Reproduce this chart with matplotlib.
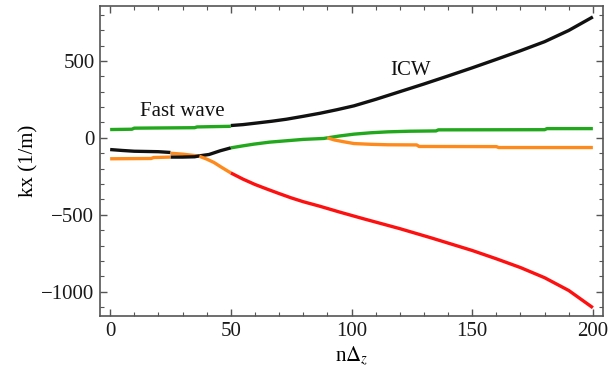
import matplotlib
matplotlib.use("Agg")
import matplotlib.pyplot as plt
from matplotlib.ticker import MultipleLocator

plt.rcParams['font.family'] = ['Liberation Serif', 'DejaVu Serif']
plt.rcParams['mathtext.fontset'] = 'stix'

# Top branch: fast wave (green) then ICW (black)
x_fw = [0, 9, 10, 35, 36, 50]
y_fw = [54, 56, 63, 66, 71, 75]
x_icw = [50, 55, 60, 67, 73, 80, 87, 94, 101, 110, 120, 130, 140, 150, 160, 170, 180, 190, 200]
y_icw = [80, 86, 95, 108, 121, 140, 160, 183, 208, 250, 300, 350, 402, 455, 510, 566, 625, 698, 786]

# Second branch
x_b1 = [0, 5, 10, 20, 25]
y_b1 = [-76, -82, -87, -90, -95]
x_o1 = [25, 30, 35, 38]
y_o1 = [-100, -106, -115, -120]
x_b2 = [25, 30, 35, 37]
y_b2 = [-125, -125, -123, -117]
x_b3 = [37, 41, 45.6, 50]
y_b3 = [-117, -108, -84, -65]
x_g1 = [50, 55, 59.5, 66, 73, 80, 88.5, 90]
y_g1 = [-65, -52, -41, -28, -19, -10, -4, 0]
x_g2 = [90, 95, 101, 108, 115, 124, 135, 136, 180, 181, 200]
y_g2 = [0, 12, 24, 33, 39, 43, 45, 52, 53, 60, 60]

# Lower branch: orange then red
x_o2 = [0, 17, 18, 25]
y_o2 = [-136, -134, -128, -125]
x_o3 = [37, 40, 43, 46, 50]
y_o3 = [-120, -138, -160, -190, -228]
x_red = [50, 55, 60, 65, 70, 75, 80, 87, 95, 105, 120, 133, 150, 160, 170, 180, 190, 200]
y_red = [-228, -268, -303, -333, -362, -390, -415, -445, -482, -526, -590, -650, -732, -786, -843, -909, -992, -1104]

# Split-off branch (orange)
x_o4 = [90, 93, 97, 101, 108, 115, 127, 128, 160, 161, 200]
y_o4 = [0, -14, -26, -37, -42, -45, -46, -56, -57, -63, -63]

GREEN = '#22a81c'
ORANGE = '#ff8a1c'
RED = '#ff1010'
BLACK = '#111111'

fig = plt.figure(figsize=(6.08, 3.74), dpi=100)
ax = fig.add_axes([0.1645, 0.155, 0.8265, 0.829])
lw = 2.4
segs = [(x_fw, y_fw, GREEN), (x_icw, y_icw, BLACK),
        (x_b1, y_b1, BLACK), (x_o1, y_o1, ORANGE), (x_b2, y_b2, BLACK),
        (x_b3, y_b3, BLACK), (x_g1, y_g1, GREEN), (x_g2, y_g2, GREEN),
        (x_o2, y_o2, ORANGE), (x_o3, y_o3, ORANGE), (x_red, y_red, RED),
        (x_o4, y_o4, ORANGE)]
for xs, ys, c in segs:
    ax.plot(xs, ys, color=c, lw=lw, solid_capstyle='butt', solid_joinstyle='round')

ax.set_xlim(-4.2, 204)
ax.set_ylim(-1158, 857)
ax.xaxis.set_major_locator(MultipleLocator(50))
ax.xaxis.set_minor_locator(MultipleLocator(10))
ax.yaxis.set_major_locator(MultipleLocator(500))
ax.yaxis.set_minor_locator(MultipleLocator(100))
ax.tick_params(which='both', direction='in', top=True, right=True,
               colors='#555555', labelcolor='#1a1a1a', labelsize=15, pad=4)
ax.tick_params(which='major', length=5, width=1)
ax.tick_params(which='minor', length=3, width=0.8)
for s in ax.spines.values():
    s.set_color('#555555')
    s.set_linewidth(1.2)
ax.set_yticks([-1000, -500, 0, 500])
ax.set_yticklabels(['\u22121000', '\u2212500', '0', '500'])

ax.text(30, 169, 'Fast wave', fontsize=15, ha='center', va='center', color='#111111')
ax.text(124.5, 435, 'ICW', fontsize=15, ha='center', va='center', color='#111111')

ax.set_xlabel(r'n$\Delta_z$', fontsize=15, labelpad=3)
ax.set_ylabel('kx (1/m)', fontsize=15, labelpad=2)

fig.savefig('out.png', dpi=100)
